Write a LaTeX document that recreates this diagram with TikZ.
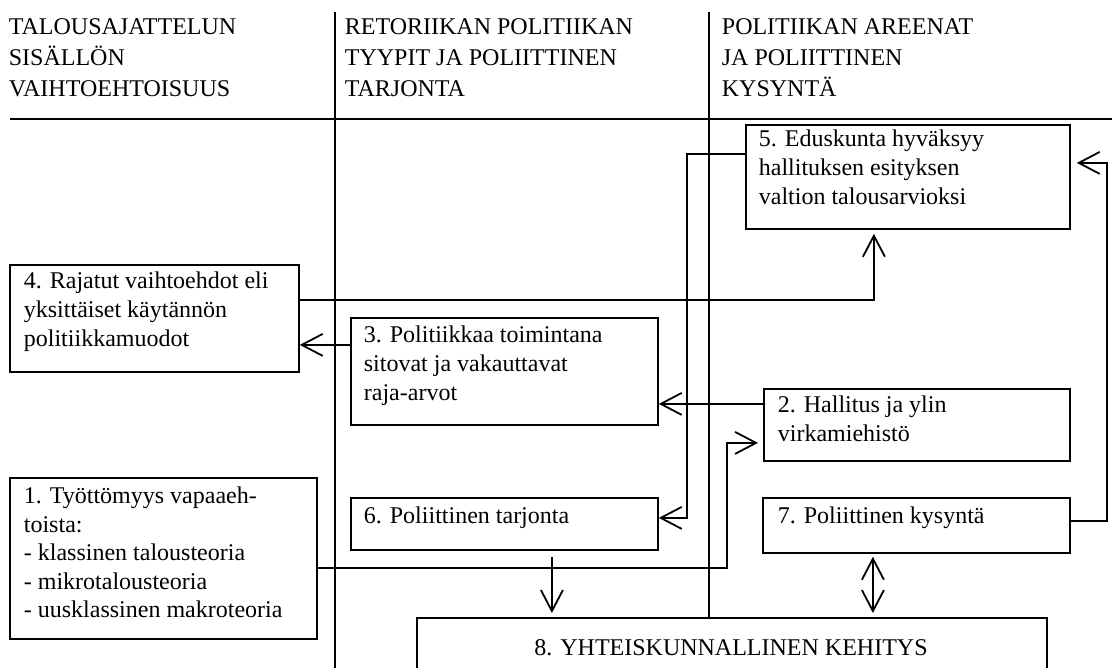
\documentclass[tikz,border=0pt]{standalone}
\usepackage{fontspec}
\setmainfont{Liberation Serif}
\usetikzlibrary{arrows.meta}
\begin{document}
\begin{tikzpicture}[x=1pt,y=-1pt,line width=1.8pt,
  boxst/.style={draw,rectangle,inner sep=0pt,anchor=north west},
  txt/.style={font=\fontsize{24}{29}\selectfont,align=left,inner sep=0pt,anchor=north west},
  hdr/.style={font=\fontsize{24}{31}\selectfont,align=left,inner sep=0pt,anchor=north west},
  arr/.style={-{Straight Barb[length=21pt,width=22pt]}},
  darr/.style={{Straight Barb[length=21pt,width=22pt]}-{Straight Barb[length=21pt,width=22pt]}}]
\useasboundingbox (0,0) rectangle (1112,668);
\clip (0,0) rectangle (1112,668);

% headers
\node[hdr] (h1) at (8,12.3) {\strut TALOUSAJATTELUN\\SISÄLLÖN\\VAIHTOEHTOISUUS};
\node[hdr] (h2) at (344,12.3) {\strut RETORIIKAN POLITIIKAN\\TYYPIT JA POLIITTINEN\\TARJONTA};
\node[hdr] (h3) at (721,12.3) {\strut POLITIIKAN AREENAT\\JA POLIITTINEN\\KYSYNTÄ};

% boxes
\node[boxst,minimum width=324pt,minimum height=104pt] (n5) at (745,124) {};
\node[boxst,minimum width=289pt,minimum height=107pt] (n4) at (9,264) {};
\node[boxst,minimum width=307pt,minimum height=107pt] (n3) at (350,317) {};
\node[boxst,minimum width=306pt,minimum height=72pt] (n2) at (763,388) {};
\node[boxst,minimum width=307pt,minimum height=52pt] (n6) at (350,497) {};
\node[boxst,minimum width=307pt,minimum height=55pt] (n7) at (762,497) {};
\node[boxst,minimum width=307pt,minimum height=161pt] (n1) at (9,477) {};
\node[boxst,minimum width=630pt,minimum height=90pt] (n8) at (416,617) {};

% texts
\node[txt] (t5) at (758,125.7) {\strut 5. Eduskunta hyväksyy\\hallituksen esityksen\\valtion talousarvioksi};
\node[txt] (t4) at (23,267.7) {\strut 4. Rajatut vaihtoehdot eli\\yksittäiset käytännön\\politiikkamuodot};
\node[txt] (t3) at (363,321.7) {\strut 3. Politiikkaa toimintana\\sitovat ja vakauttavat\\raja-arvot};
\node[txt] (t2) at (777,391.7) {\strut 2. Hallitus ja ylin\\virkamiehistö};
\node[txt] (t6) at (363,502.7) {\strut 6. Poliittinen tarjonta};
\node[txt] (t7) at (777,502.7) {\strut 7. Poliittinen kysyntä};
\node[txt,font=\fontsize{24}{28.5}\selectfont] (t1) at (23,483.05) {\strut 1. Työttömyys vapaaeh-\\toista:\\- klassinen talousteoria\\- mikrotalousteoria\\- uusklassinen makroteoria};
\node[font=\fontsize{24}{29}\selectfont,inner sep=0pt,anchor=base] (t8) at (731,655) {8. YHTEISKUNNALLINEN KEHITYS};

% rules
\coordinate (hl) at (10,119);
\coordinate (hr) at (1112,119);
\draw[line width=2.2pt] (hl) -- (hr);
\coordinate (v1t) at (335,12);
\coordinate (v1b) at (335,668);
\draw (v1t) -- (v1b);
\coordinate (v2) at (709,12);
\draw (v2) -- (v2 |- n8.north);

% connectors
\coordinate (c4a) at ([yshift=18.5pt]n4.east);
\coordinate (c5s) at ([xshift=-34pt]n5.south);
\draw[arr,shorten >=4pt] (c4a) -| (c5s);

\coordinate (c5w) at ([yshift=23pt]n5.west);
\coordinate (c6e) at ([yshift=6pt]n6.east);
\draw[arr] (c5w) -| ([xshift=28pt]c6e) -- (c6e);

\coordinate (c2a) at ([yshift=21pt]n2.west);
\draw[arr] (c2a) -- (c2a -| n3.east);

\coordinate (c3a) at ([yshift=26.5pt]n3.west);
\draw[arr] (c3a) -- (c3a -| n4.east);

\coordinate (c1e) at ([yshift=-9.5pt]n1.east);
\coordinate (c2b) at ([yshift=-18pt]n2.west);
\draw[arr,shorten >=5pt] (c1e) -| ([xshift=-36pt]c2b) -- (c2b);

\coordinate (c7e) at ([yshift=4.5pt]n7.east);
\coordinate (c5e) at ([yshift=14pt]n5.east);
\draw[arr,shorten >=6pt] (c7e) -| ([xshift=36pt]c5e) -- (c5e);

\coordinate (c6s) at ([xshift=47.5pt]n6.south);
\draw[arr,shorten <=6pt,shorten >=4pt] (c6s) -- (c6s |- n8.north);

\coordinate (c7s) at ([xshift=-43.5pt]n7.south);
\draw[darr,shorten <=3pt,shorten >=4pt] (c7s) -- (c7s |- n8.north);
\end{tikzpicture}
\end{document}
